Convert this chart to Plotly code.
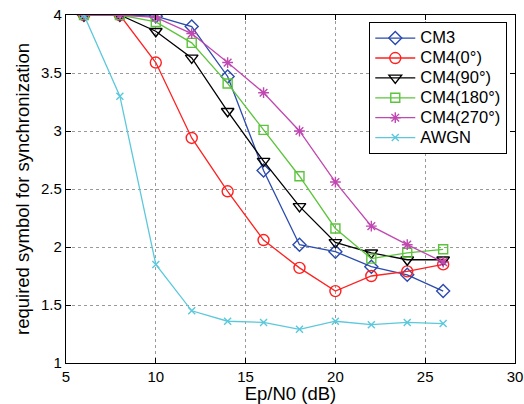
import plotly.graph_objects as go

x_db = [6, 8, 10, 12, 14, 16, 18, 20, 22, 24, 26]
cm3 = [4.0, 4.0, 3.99, 3.90, 3.47, 2.66, 2.02, 1.96, 1.83, 1.76, 1.62]
cm4_0 = [4.0, 4.0, 3.59, 2.94, 2.48, 2.06, 1.82, 1.62, 1.75, 1.79, 1.85]
cm4_90 = [4.0, 4.0, 3.86, 3.63, 3.17, 2.74, 2.35, 2.04, 1.95, 1.89, 1.89]
cm4_180 = [4.0, 4.0, 3.94, 3.76, 3.41, 3.01, 2.61, 2.16, 1.90, 1.95, 1.98]
cm4_270 = [4.0, 4.0, 3.98, 3.84, 3.59, 3.33, 3.00, 2.56, 2.18, 2.02, 1.87]
awgn = [4.0, 3.30, 1.85, 1.45, 1.36, 1.35, 1.29, 1.36, 1.33, 1.35, 1.34]

x_ticks = [5, 10, 15, 20, 25, 30]
y_ticks = [1, 1.5, 2, 2.5, 3, 3.5, 4]
y_tick_labels = ["1", "1.5", "2", "2.5", "3", "3.5", "4"]

series = [
    ("CM3", cm3, "#2B4BAE", "diamond-open", 10),
    ("CM4(0°)", cm4_0, "#FF2020", "circle-open", 11),
    ("CM4(90°)", cm4_90, "#000000", "triangle-down-open", 11),
    ("CM4(180°)", cm4_180, "#5CC43C", "square-open", 9),
    ("CM4(270°)", cm4_270, "#C048B0", "asterisk-open", 9),
    ("AWGN", awgn, "#5CC8DC", "x-thin-open", 7),
]

fig = go.Figure()
for name, ys, color, sym, size in series:
    fig.add_trace(go.Scatter(
        x=x_db, y=ys, name='<span style="font-size:16.5px">' + name + '</span>',
        mode="lines+markers",
        line=dict(color=color, width=1.3),
        marker=dict(symbol=sym, size=size, color=color,
                    line=dict(color=color, width=1.4)),
    ))

FONT = "Liberation Sans, Arial"
axis_common = dict(
    showline=True, linecolor="black", linewidth=1.2, mirror="allticks",
    ticks="inside", ticklen=5, tickcolor="black",
    showgrid=True, gridcolor="#9a9a9a", griddash="dot", gridwidth=1,
    zeroline=False, automargin=False,
    tickfont=dict(family=FONT, size=15, color="black"),
    title_font=dict(family=FONT, size=18.5, color="black"),
)

fig.update_xaxes(range=[5, 30], tickvals=x_ticks, ticktext=[str(v) for v in x_ticks],
                 title_text="Ep/N0 (dB)", title_standoff=5, **axis_common)
fig.update_yaxes(range=[1, 4], tickvals=y_ticks, ticktext=y_tick_labels,
                 title_text="required symbol for synchronization", title_standoff=6,
                 **axis_common)

fig.update_layout(
    width=524, height=404,
    margin=dict(l=66, r=9, t=15, b=41),
    paper_bgcolor="white", plot_bgcolor="white",
    font=dict(family=FONT, color="black"),
    legend=dict(
        x=0.675, y=0.98, xanchor="left", yanchor="top",
        bgcolor="white", bordercolor="black", borderwidth=1.2,
        font=dict(size=13, family=FONT),
        itemwidth=40, tracegroupgap=0,
    ),
)

fig.write_html("out.html", config={"displayModeBar": False},
               post_script="document.body.style.margin='0';document.body.style.overflow='hidden';")
